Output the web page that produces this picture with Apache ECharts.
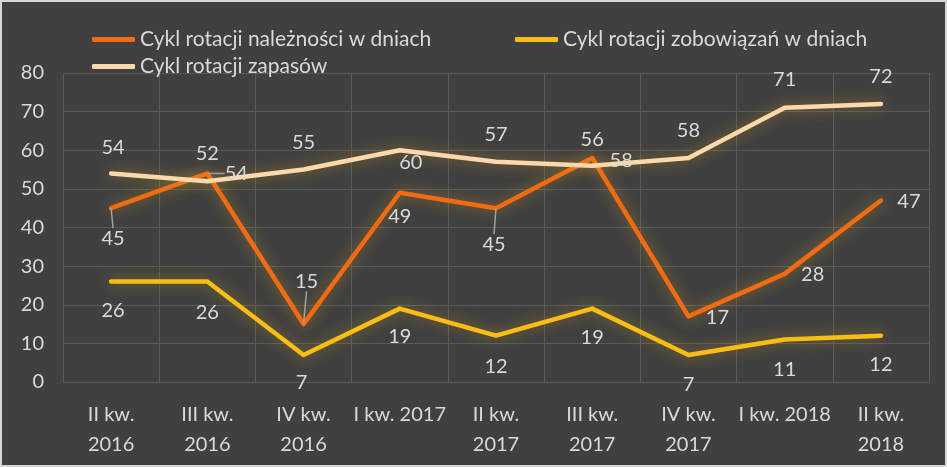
<!DOCTYPE html>
<html><head><meta charset="utf-8">
<script src="https://cdn.jsdelivr.net/npm/echarts@6/dist/echarts.min.js"></script>
<style>html,body{margin:0;padding:0;background:#404040}#c{width:947px;height:467px}</style>
</head><body><div id="c"></div>
<script>
var categories = ['II kw.\n2016','III kw.\n2016','IV kw.\n2016','I kw. 2017','II kw.\n2017','III kw.\n2017','IV kw.\n2017','I kw. 2018','II kw.\n2018'];
var seriesNames = ['Cykl rotacji należności w dniach','Cykl rotacji zobowiązań w dniach','Cykl rotacji zapasów'];
var naleznosci = [45, 54, 15, 49, 45, 58, 17, 28, 47];
var zobowiazania = [26, 26, 7, 19, 12, 19, 7, 11, 12];
var zapasy = [54, 52, 55, 60, 57, 56, 58, 71, 72];
var yTicks = [0,10,20,30,40,50,60,70,80];

// label offsets (styling), relative to each point
var offN = [[2,30],[29,0],[3,-43],[0,24],[-2,36],[29,3],[29,1],[28,1],[28,1]];
var offZ = [[2,29],[0,31],[-2,28],[0,28],[0,31],[0,29],[0,30],[0,30],[0,29]];
var offP = [[2,-26],[0,-28],[0,-27],[11,12],[0,-27],[0,-26],[0,-27],[0,-28],[0,-27]];
var leaderN = [true, true, true, false, true, false, false, false, false];

var FONT = "Lato, Carlito, sans-serif";
var TXT = '#d9d9d9';

function series(name, values, offs, color, leaders){
  var s = {
    name:name, type:'line',
    data: values.map(function(v,i){
      var it = {value:v};
      if (leaders) it.labelLine = {show: !!leaders[i]};
      return it;
    }),
    symbol:'circle', symbolSize:0.1, showSymbol:true,
    itemStyle:{color:color},
    lineStyle:{color:color, width:4.5, cap:'round', join:'round',
      shadowColor:'rgba(235,175,30,0.5)', shadowBlur:14},
    label:{show:true, position:'inside', color:TXT, fontSize:20, fontFamily:FONT},
    labelLayout:function(p){ var o = offs[p.dataIndex]; return {dx:o[0], dy:o[1]}; },
    emphasis:{disabled:true}, animation:false
  };
  if (leaders) {
    s.labelLine = {show:true, length2:0, smooth:false, lineStyle:{color:'#a0a0a0', width:1.5}};
  }
  return s;
}
var colors = ['#F26B12','#F9BE14','#FCD9AA'];
var legendText = {color:TXT, fontSize:21, fontFamily:FONT};
var chart = echarts.init(document.getElementById('c'));
chart.setOption({
  backgroundColor:'#404040',
  animation:false,
  graphic:[{type:'rect', shape:{x:1,y:1,width:945,height:465}, style:{fill:null, stroke:'#d6d6d6', lineWidth:2}, silent:true}],
  legend:[
    {data:[seriesNames[0]], left:87, top:24, itemWidth:43, itemHeight:5, icon:'roundRect', textStyle:legendText},
    {data:[seriesNames[1]], left:510, top:24, itemWidth:43, itemHeight:5, icon:'roundRect', textStyle:legendText},
    {data:[seriesNames[2]], left:87, top:51, itemWidth:43, itemHeight:5, icon:'roundRect', textStyle:legendText}
  ],
  grid:{left:63, right:18, top:73, bottom:85},
  xAxis:{type:'category', data:categories, boundaryGap:true,
    axisLine:{show:true, lineStyle:{color:'#5a5a5a'}}, axisTick:{show:false},
    splitLine:{show:true, lineStyle:{color:'#5a5a5a', width:1}},
    axisLabel:{color:TXT, fontSize:20, fontFamily:FONT, margin:18, lineHeight:30, interval:0}},
  yAxis:{type:'value', min:yTicks[0], max:yTicks[yTicks.length-1], interval:10,
    axisLine:{show:false}, axisTick:{show:false},
    splitLine:{lineStyle:{color:'#5a5a5a', width:1}},
    axisLabel:{color:TXT, fontSize:20, fontFamily:FONT, margin:19}},
  series:[
    series(seriesNames[0], naleznosci, offN, colors[0], leaderN),
    series(seriesNames[1], zobowiazania, offZ, colors[1]),
    series(seriesNames[2], zapasy, offP, colors[2])
  ]
});
</script></body></html>
